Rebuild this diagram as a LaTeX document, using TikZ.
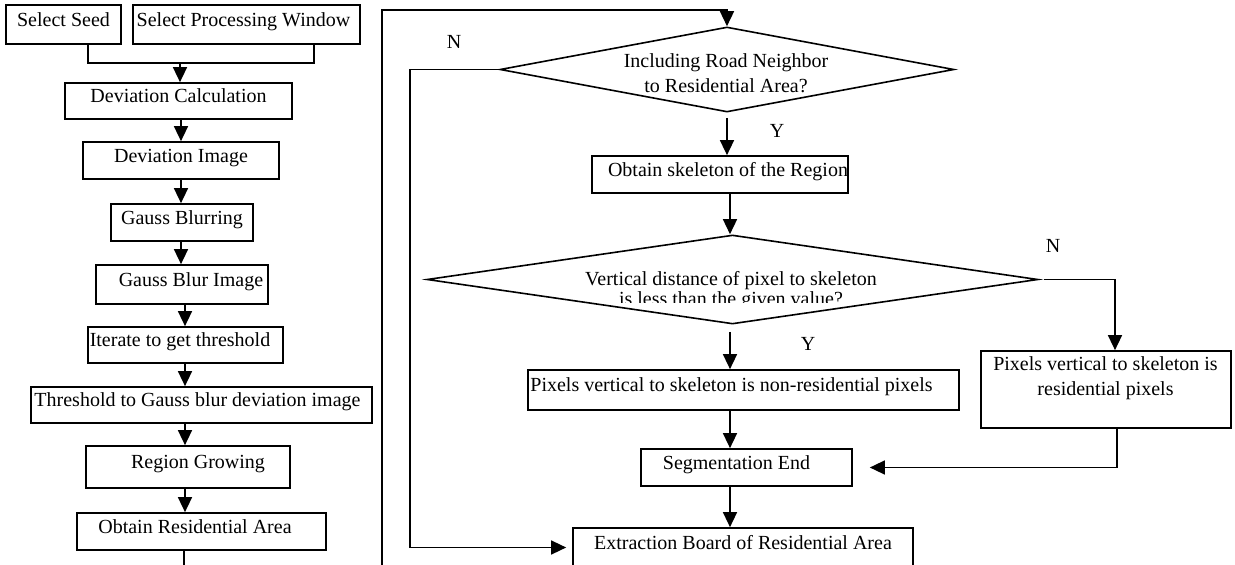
\documentclass[tikz,border=0pt]{standalone}
\usepackage{fontspec}
\setmainfont{Liberation Serif}
\usetikzlibrary{arrows.meta,shapes.geometric}
\begin{document}
\begin{tikzpicture}[x=1pt,y=-1pt,
  every node/.style={font=\fontsize{20pt}{24pt}\selectfont},
  box/.style={draw,line width=1.7pt,inner sep=0pt,text height=14pt,text depth=10.8pt},
  dia/.style={draw,diamond,line width=1.6pt,inner sep=0pt},
  txt/.style={inner sep=0pt,align=center},
  lbl/.style={inner sep=0pt},
  conn/.style={line width=1.5pt},
  arr/.style={conn,-{Triangle[length=15pt,width=14pt]}}]
\useasboundingbox (0,0) rectangle (1235,565);
\fill[white] (0,0) rectangle (1235,565);
\clip (0,0) rectangle (1235,565);

% left column
\node[box,minimum width=115pt,minimum height=39pt] (seed) at (63.5,24.5) {Select Seed};
\node[box,minimum width=227pt,minimum height=39pt] (win) at (246.5,24.5) {Select Processing Window\hspace*{6pt}};
\node[box,minimum width=227pt,minimum height=36pt] (devc) at (178.5,101) {Deviation Calculation};
\node[box,minimum width=196pt,minimum height=37pt] (devi) at (181,160.5) {Deviation Image};
\node[box,minimum width=142pt,minimum height=37pt] (gblr) at (182,222.5) {Gauss Blurring};
\node[box,minimum width=172pt,minimum height=39pt] (gbim) at (182,284.5) {\hspace*{18pt}Gauss Blur Image};
\node[box,minimum width=195pt,minimum height=36pt] (iter) at (185.5,345) {Iterate to get threshold\hspace*{11pt}};
\node[box,minimum width=341pt,minimum height=36pt] (thr) at (201.5,405) {Threshold to Gauss blur deviation image\hspace*{8pt}};
\node[box,minimum width=204pt,minimum height=42pt] (reg) at (188,467) {\hspace*{20pt}Region Growing};
\node[box,minimum width=249pt,minimum height=37pt] (obt) at (201.5,531.5) {Obtain Residential Area\hspace*{13pt}};

% right part
\node[dia,minimum width=454pt,minimum height=85pt] (d1) at (727,69.5) {};
\node[txt,font=\fontsize{20pt}{25pt}\selectfont] (d1t) at (726,73.7) {Including Road Neighbor\\to Residential Area?};
\node[box,minimum width=256pt,minimum height=37pt] (skel) at (720,174.5) {\hspace*{16pt}Obtain skeleton of the Region};
\node[dia,minimum width=611pt,minimum height=89pt] (d2) at (732.5,279.5) {};
\begin{scope}
\clip (400,200) rectangle (1100,302);
\node[txt,font=\fontsize{20pt}{20pt}\selectfont] (d2t) at (731,290.8) {Vertical distance of pixel to skeleton\\is less than the given value?};
\end{scope}
\node[box,minimum width=431pt,minimum height=40pt] (nonres) at (743.5,390) {Pixels vertical to skeleton is non-residential pixels\hspace*{24pt}};
\node[box,minimum width=250pt,minimum height=77pt] (res) at (1106,389.5) {};
\node[txt,font=\fontsize{20pt}{25pt}\selectfont] (rest) at (1105.5,378.3) {Pixels vertical to skeleton is\\residential pixels};
\node[box,minimum width=211pt,minimum height=37pt] (seg) at (746.5,467.5) {Segmentation End\hspace*{20pt}};
\node[box,minimum width=340pt,minimum height=39pt] (extr) at (743,547.5) {Extraction Board of Residential Area};

% labels
\node[lbl] (n1) at (454,42) {N};
\node[lbl] (y1) at (777,131) {Y};
\node[lbl] (n2) at (1053,246) {N};
\node[lbl] (y2) at (808,344) {Y};

% left connectors
\coordinate (jn) at (180,63);
\draw[conn] ([xshift=24.5pt]seed.south) |- (jn) -| ([xshift=67.5pt]win.south);
\draw[arr] (jn) -- (devc.north -| jn);
\coordinate (axA) at (181,0);
\coordinate (axB) at (185,0);
\draw[arr] (devc.south -| axA) -- (devi.north -| axA);
\draw[arr] (devi.south -| axA) -- (gblr.north -| axA);
\draw[arr] (gblr.south -| axA) -- (gbim.north -| axA);
\draw[arr] (gbim.south -| axB) -- (iter.north -| axB);
\draw[arr] (iter.south -| axB) -- (thr.north -| axB);
\draw[arr] (thr.south -| axB) -- (reg.north -| axB);
\draw[arr] (reg.south -| axB) -- (obt.north -| axB);

% loop back to the top decision
\coordinate (lpA) at (184,590);
\coordinate (lpB) at (382,590);
\coordinate (lpC) at (382,10);
\draw[arr] (obt.south -| lpA) -- (lpA) -- (lpB) -- (lpC) -| (d1.north);

% right connectors
\coordinate (nx) at (410,0);
\draw[arr,shorten >=6pt] (d1.west) -- (d1.west -| nx) |- (extr.west);
\draw[arr,shorten <=5pt] (d1.south) -- (skel.north -| d1.south);
\coordinate (axR) at (730,0);
\draw[arr] (skel.south -| axR) -- (d2.north -| axR);
\draw[arr,shorten <=7pt] (d2.south -| axR) -- (nonres.north -| axR);
\draw[arr] (nonres.south -| axR) -- (seg.north -| axR);
\draw[arr] (seg.south -| axR) -- (extr.north -| axR);
\draw[arr,shorten <=5pt] (d2.east) -| ([xshift=9pt]res.north);
\draw[arr,shorten >=17pt] ([xshift=11pt]res.south) |- (seg.east);
\end{tikzpicture}
\end{document}
